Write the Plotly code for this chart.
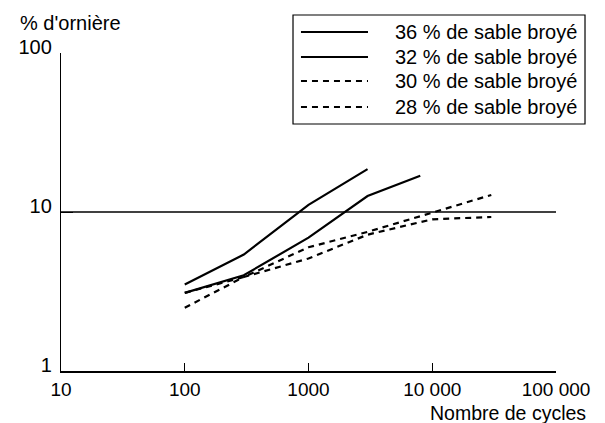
import plotly.graph_objects as go

# ---- data ----
names = ["36 % de sable broyé", "32 % de sable broyé",
         "30 % de sable broyé", "28 % de sable broyé"]
x36 = [100, 300, 1000, 3000]
y36 = [3.5, 5.4, 11.1, 18.6]
x32 = [100, 300, 1000, 3000, 8000]
y32 = [3.1, 4.0, 6.9, 12.6, 16.9]
x30 = [100, 300, 1000, 3000, 10000, 30000]
y30 = [3.1, 3.9, 6.0, 7.5, 9.9, 12.8]
x28 = [100, 300, 1000, 3000, 10000, 30000]
y28 = [2.5, 3.9, 5.1, 7.2, 9.0, 9.3]
ref_level = 10

x_tickvals = [10, 100, 1000, 10000, 100000]
x_ticktext = ["10", "100", "1000", "10 000", "100 000"]
y_tickvals = [1, 10, 100]
y_ticktext = ["1", "10", "100"]

FONT = "Liberation Sans, Arial, Helvetica, sans-serif"
DASH = "6px,5px"
series = [(x36, y36, "solid"), (x32, y32, "solid"),
          (x30, y30, DASH), (x28, y28, DASH)]

fig = go.Figure()
for (xs, ys, dash), nm in zip(series, names):
    fig.add_trace(go.Scatter(x=xs, y=ys, mode="lines", name=nm,
                             line=dict(color="black", width=2.2, dash=dash)))

shapes = [dict(type="line", xref="paper", x0=0, x1=1, yref="y",
               y0=ref_level, y1=ref_level, line=dict(color="black", width=1.6))]
annotations = [
    dict(text="% d'ornière", xref="paper", yref="paper", x=-0.086,
         y=1.094, xanchor="left", yanchor="middle", showarrow=False,
         font=dict(size=20)),
    dict(text="Nombre de cycles", xref="paper", yref="paper", x=1.065,
         y=-0.131, xanchor="right", yanchor="middle", showarrow=False,
         font=dict(size=19.5)),
]

# ---- legend box (drawn in paper coordinates) ----
shapes.append(dict(type="rect", xref="paper", yref="paper",
                   x0=0.4687, x1=1.0586, y0=0.7767, y1=1.1195,
                   line=dict(color="black", width=1.2), fillcolor="white",
                   layer="above"))
row_y = [1.066, 0.9874, 0.9119, 0.8302]
for (xs, ys, dash), nm, ry in zip(series, names, row_y):
    shapes.append(dict(type="line", xref="paper", yref="paper",
                       x0=0.4848, x1=0.6202, y0=ry, y1=ry, layer="above",
                       line=dict(color="black", width=2.2, dash=dash)))
    annotations.append(dict(text=nm, xref="paper", yref="paper", x=0.6707,
                            y=ry, xanchor="left", yanchor="middle",
                            showarrow=False, font=dict(size=20)))

fig.update_layout(
    width=605, height=423,
    margin=dict(l=61, r=49, t=53, b=52),
    paper_bgcolor="white", plot_bgcolor="white",
    font=dict(family=FONT, size=20, color="black"),
    showlegend=False,
    xaxis=dict(type="log", range=[1, 5], showgrid=False, zeroline=False,
               showline=True, linecolor="black", linewidth=1.6,
               ticks="inside", ticklen=8, tickwidth=1.4, tickcolor="black",
               tickvals=x_tickvals, ticktext=x_ticktext,
               tickfont=dict(size=19), ticklabelstandoff=0),
    yaxis=dict(type="log", range=[0, 2], showgrid=False, zeroline=False,
               showline=True, linecolor="black", linewidth=1.4,
               ticks="inside", ticklen=12, tickwidth=1.4, tickcolor="black",
               tickvals=y_tickvals, ticktext=y_ticktext,
               ticklabelstandoff=4, ticklabelshift=-6),
    shapes=shapes,
    annotations=annotations,
)

fig.write_html("out.html")
